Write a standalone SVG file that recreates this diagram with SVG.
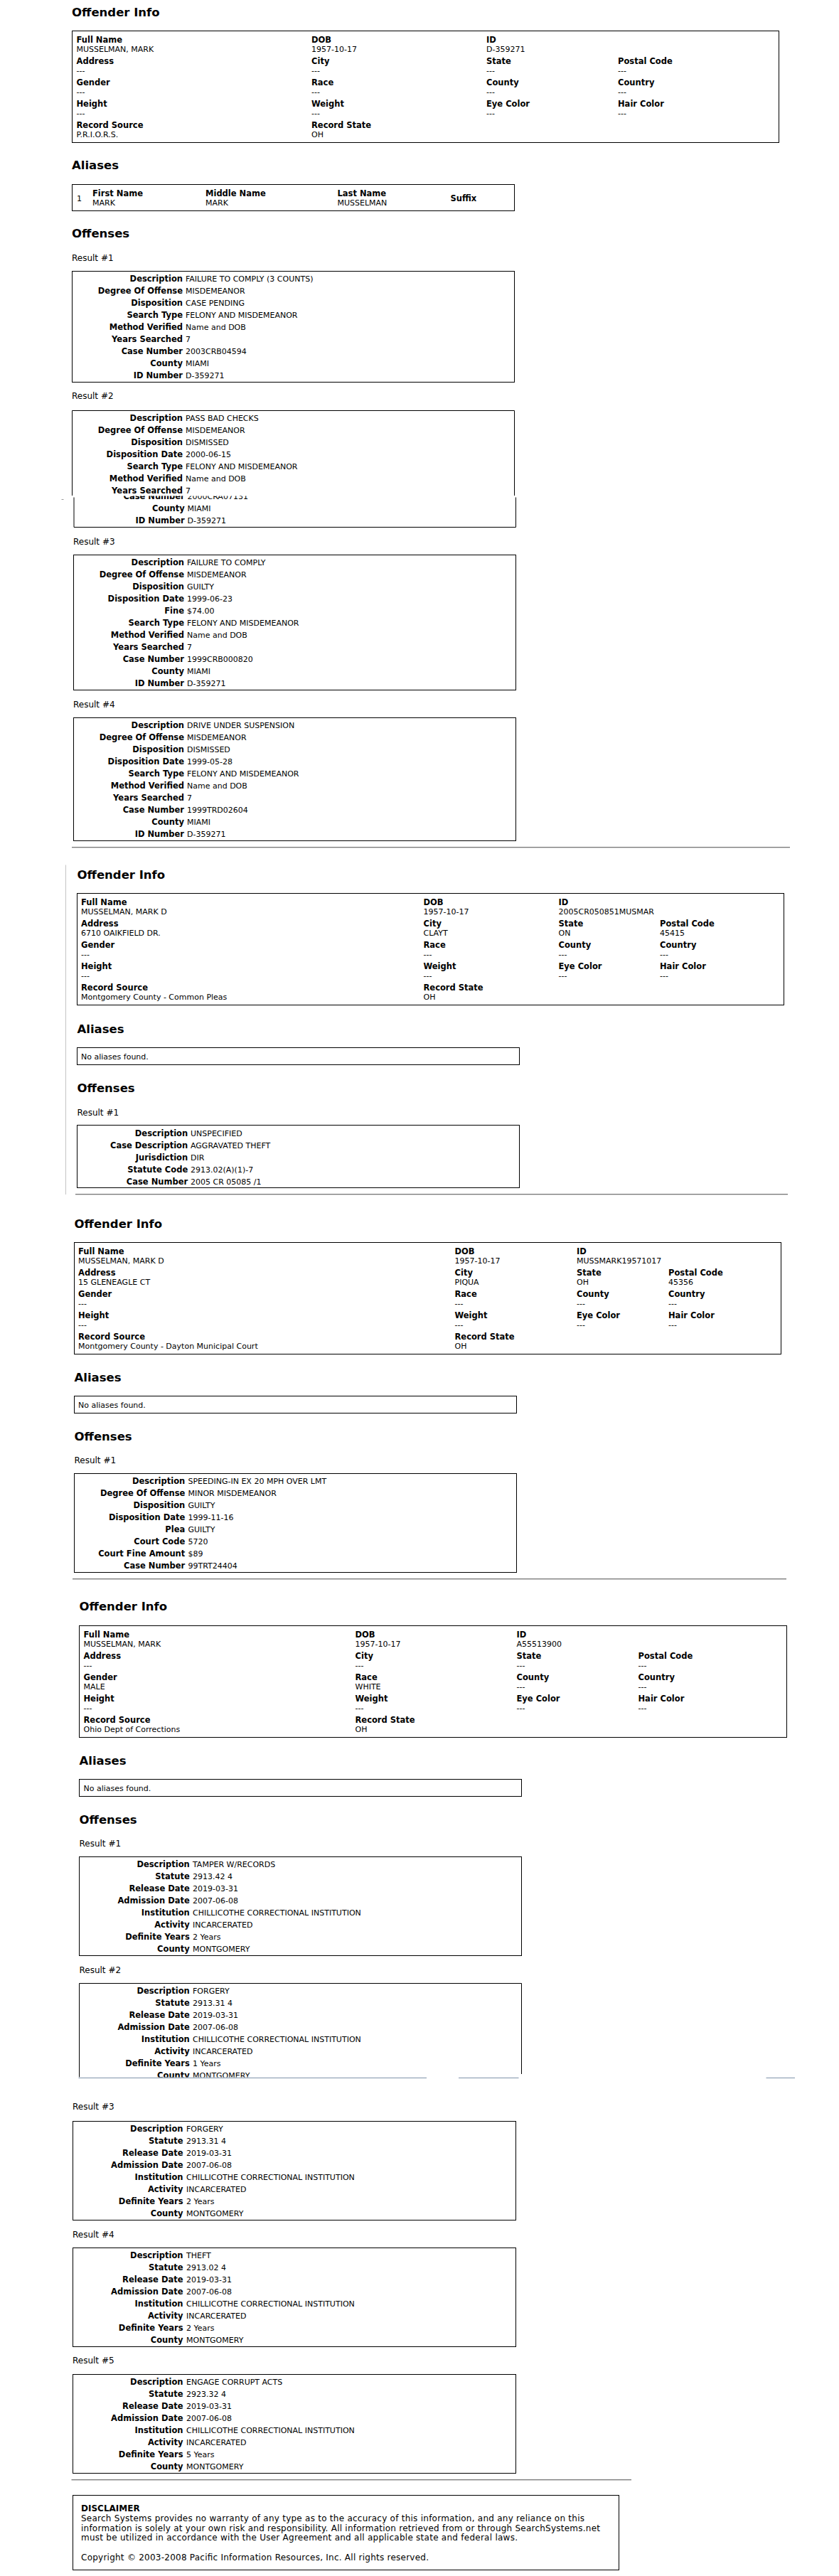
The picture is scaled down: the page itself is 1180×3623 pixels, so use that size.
<svg xmlns="http://www.w3.org/2000/svg" width="1180" height="3623" viewBox="0 0 1180 3623">
<style>
text{font-family:"DejaVu Sans",Verdana,sans-serif;fill:#000}
.h{font-size:16.5px;font-weight:bold}
.l{font-size:11.5px;font-weight:bold}
.le{font-size:11.5px;font-weight:bold;text-anchor:end}
.v{font-size:11px}
.r{font-size:12px}
.d{font-size:12px}
.db{font-size:12px;font-weight:bold}
.box{fill:none;stroke:#000;stroke-width:1}
.hr1{fill:#7a7a7a}
.hr2{fill:#cfcfcf}
.gl{stroke:#7f93aa;stroke-width:1.2;fill:none}
</style>
<defs>
<clipPath id="clipA"><rect x="80" y="697.5" width="700" height="60"/></clipPath>
<clipPath id="clipB"><rect x="80" y="2780" width="700" height="141.5"/></clipPath>
</defs>
<rect width="1180" height="3623" fill="#fff"/>

<!-- ============ SECTION 1 ============ -->
<g id="s1-info">
<text class="h" x="101" y="23">Offender Info</text>
<rect class="box" x="101.5" y="43.5" width="994" height="157"/>
<text class="l" x="107.5" y="59.5">Full Name</text><text class="v" x="107.5" y="72.5">MUSSELMAN, MARK</text>
<text class="l" x="438" y="59.5">DOB</text><text class="v" x="438" y="72.5">1957-10-17</text>
<text class="l" x="684" y="59.5">ID</text><text class="v" x="684" y="72.5">D-359271</text>
<text class="l" x="107.5" y="89.5">Address</text><text class="v" x="107.5" y="102.5">---</text>
<text class="l" x="438" y="89.5">City</text><text class="v" x="438" y="102.5">---</text>
<text class="l" x="684" y="89.5">State</text><text class="v" x="684" y="102.5">---</text>
<text class="l" x="869" y="89.5">Postal Code</text><text class="v" x="869" y="102.5">---</text>
<text class="l" x="107.5" y="119.5">Gender</text><text class="v" x="107.5" y="132.5">---</text>
<text class="l" x="438" y="119.5">Race</text><text class="v" x="438" y="132.5">---</text>
<text class="l" x="684" y="119.5">County</text><text class="v" x="684" y="132.5">---</text>
<text class="l" x="869" y="119.5">Country</text><text class="v" x="869" y="132.5">---</text>
<text class="l" x="107.5" y="149.5">Height</text><text class="v" x="107.5" y="162.5">---</text>
<text class="l" x="438" y="149.5">Weight</text><text class="v" x="438" y="162.5">---</text>
<text class="l" x="684" y="149.5">Eye Color</text><text class="v" x="684" y="162.5">---</text>
<text class="l" x="869" y="149.5">Hair Color</text><text class="v" x="869" y="162.5">---</text>
<text class="l" x="107.5" y="179.5">Record Source</text><text class="v" x="107.5" y="192.5">P.R.I.O.R.S.</text>
<text class="l" x="438" y="179.5">Record State</text><text class="v" x="438" y="192.5">OH</text>
</g>

<g id="s1-aliases">
<text class="h" x="101" y="237.5">Aliases</text>
<rect class="box" x="101.5" y="259.5" width="622" height="37"/>
<text class="v" x="108" y="282.5">1</text>
<text class="l" x="130" y="275.5">First Name</text><text class="v" x="130" y="288.5">MARK</text>
<text class="l" x="289" y="275.5">Middle Name</text><text class="v" x="289" y="288.5">MARK</text>
<text class="l" x="474.5" y="275.5">Last Name</text><text class="v" x="474.5" y="288.5">MUSSELMAN</text>
<text class="l" x="633.5" y="282.5">Suffix</text>
</g>

<g id="s1-offenses">
<text class="h" x="101" y="333.5">Offenses</text>
</g>

<g id="s1-r1">
<text class="r" x="101" y="366.5">Result #1</text>
<rect class="box" x="101.5" y="381.5" width="622" height="156"/>
<text class="le" x="257" y="395.5">Description</text><text class="v" x="261" y="395.5">FAILURE TO COMPLY (3 COUNTS)</text>
<text class="le" x="257" y="412.5">Degree Of Offense</text><text class="v" x="261" y="412.5">MISDEMEANOR</text>
<text class="le" x="257" y="429.5">Disposition</text><text class="v" x="261" y="429.5">CASE PENDING</text>
<text class="le" x="257" y="446.5">Search Type</text><text class="v" x="261" y="446.5">FELONY AND MISDEMEANOR</text>
<text class="le" x="257" y="463.5">Method Verified</text><text class="v" x="261" y="463.5">Name and DOB</text>
<text class="le" x="257" y="480.5">Years Searched</text><text class="v" x="261" y="480.5">7</text>
<text class="le" x="257" y="497.5">Case Number</text><text class="v" x="261" y="497.5">2003CRB04594</text>
<text class="le" x="257" y="514.5">County</text><text class="v" x="261" y="514.5">MIAMI</text>
<text class="le" x="257" y="531.5">ID Number</text><text class="v" x="261" y="531.5">D-359271</text>
</g>

<g id="s1-r2">
<text class="r" x="101" y="561">Result #2</text>
<path class="box" d="M101.5 697V577.5H723.5V697"/>
<text class="le" x="257" y="591.5">Description</text><text class="v" x="261" y="591.5">PASS BAD CHECKS</text>
<text class="le" x="257" y="608.5">Degree Of Offense</text><text class="v" x="261" y="608.5">MISDEMEANOR</text>
<text class="le" x="257" y="625.5">Disposition</text><text class="v" x="261" y="625.5">DISMISSED</text>
<text class="le" x="257" y="642.5">Disposition Date</text><text class="v" x="261" y="642.5">2000-06-15</text>
<text class="le" x="257" y="659.5">Search Type</text><text class="v" x="261" y="659.5">FELONY AND MISDEMEANOR</text>
<text class="le" x="257" y="676.5">Method Verified</text><text class="v" x="261" y="676.5">Name and DOB</text>
<text class="le" x="257" y="693.5">Years Searched</text><text class="v" x="261" y="693.5">7</text>
<g clip-path="url(#clipA)">
<path class="box" d="M104 699.5V741.5H725.5V699.5"/>
<text class="le" x="259.8" y="701.5">Case Number</text><text class="v" x="263.5" y="701.5">2000CRA07131</text>
<text class="le" x="259.8" y="718.5">County</text><text class="v" x="263.5" y="718.5">MIAMI</text>
<text class="le" x="259.8" y="735.5">ID Number</text><text class="v" x="263.5" y="735.5">D-359271</text>
</g>
<rect x="86.5" y="702" width="3" height="1" fill="#9a9a9a"/>
</g>

<g id="s1-r3">
<text class="r" x="103" y="766">Result #3</text>
<rect class="box" x="103.5" y="780.5" width="622" height="190"/>
<text class="le" x="259" y="795">Description</text><text class="v" x="263" y="795">FAILURE TO COMPLY</text>
<text class="le" x="259" y="812">Degree Of Offense</text><text class="v" x="263" y="812">MISDEMEANOR</text>
<text class="le" x="259" y="829">Disposition</text><text class="v" x="263" y="829">GUILTY</text>
<text class="le" x="259" y="846">Disposition Date</text><text class="v" x="263" y="846">1999-06-23</text>
<text class="le" x="259" y="863">Fine</text><text class="v" x="263" y="863">$74.00</text>
<text class="le" x="259" y="880">Search Type</text><text class="v" x="263" y="880">FELONY AND MISDEMEANOR</text>
<text class="le" x="259" y="897">Method Verified</text><text class="v" x="263" y="897">Name and DOB</text>
<text class="le" x="259" y="914">Years Searched</text><text class="v" x="263" y="914">7</text>
<text class="le" x="259" y="931">Case Number</text><text class="v" x="263" y="931">1999CRB000820</text>
<text class="le" x="259" y="948">County</text><text class="v" x="263" y="948">MIAMI</text>
<text class="le" x="259" y="965">ID Number</text><text class="v" x="263" y="965">D-359271</text>
</g>

<g id="s1-r4">
<text class="r" x="103" y="995">Result #4</text>
<rect class="box" x="103.5" y="1009.5" width="622" height="173"/>
<text class="le" x="259" y="1024">Description</text><text class="v" x="263" y="1024">DRIVE UNDER SUSPENSION</text>
<text class="le" x="259" y="1041">Degree Of Offense</text><text class="v" x="263" y="1041">MISDEMEANOR</text>
<text class="le" x="259" y="1058">Disposition</text><text class="v" x="263" y="1058">DISMISSED</text>
<text class="le" x="259" y="1075">Disposition Date</text><text class="v" x="263" y="1075">1999-05-28</text>
<text class="le" x="259" y="1092">Search Type</text><text class="v" x="263" y="1092">FELONY AND MISDEMEANOR</text>
<text class="le" x="259" y="1109">Method Verified</text><text class="v" x="263" y="1109">Name and DOB</text>
<text class="le" x="259" y="1126">Years Searched</text><text class="v" x="263" y="1126">7</text>
<text class="le" x="259" y="1143">Case Number</text><text class="v" x="263" y="1143">1999TRD02604</text>
<text class="le" x="259" y="1160">County</text><text class="v" x="263" y="1160">MIAMI</text>
<text class="le" x="259" y="1177">ID Number</text><text class="v" x="263" y="1177">D-359271</text>
</g>
<g id="hr1"><rect class="hr1" x="101" y="1191" width="1010" height="1"/><rect class="hr2" x="101" y="1192" width="1010" height="1"/></g>

<!-- ============ SECTION 2 ============ -->
<g id="s2-border"><rect x="92" y="1216.5" width="1" height="463.5" fill="#c4c4c4"/></g>
<g id="s2-info">
<text class="h" x="108.5" y="1236">Offender Info</text>
<rect class="box" x="108.5" y="1256.5" width="994" height="157"/>
<text class="l" x="114" y="1273">Full Name</text><text class="v" x="114" y="1286">MUSSELMAN, MARK D</text>
<text class="l" x="595.5" y="1273">DOB</text><text class="v" x="595.5" y="1286">1957-10-17</text>
<text class="l" x="785.5" y="1273">ID</text><text class="v" x="785.5" y="1286">2005CR050851MUSMAR</text>
<text class="l" x="114" y="1303">Address</text><text class="v" x="114" y="1316">6710 OAIKFIELD DR.</text>
<text class="l" x="595.5" y="1303">City</text><text class="v" x="595.5" y="1316">CLAYT</text>
<text class="l" x="785.5" y="1303">State</text><text class="v" x="785.5" y="1316">ON</text>
<text class="l" x="928" y="1303">Postal Code</text><text class="v" x="928" y="1316">45415</text>
<text class="l" x="114" y="1333">Gender</text><text class="v" x="114" y="1346">---</text>
<text class="l" x="595.5" y="1333">Race</text><text class="v" x="595.5" y="1346">---</text>
<text class="l" x="785.5" y="1333">County</text><text class="v" x="785.5" y="1346">---</text>
<text class="l" x="928" y="1333">Country</text><text class="v" x="928" y="1346">---</text>
<text class="l" x="114" y="1363">Height</text><text class="v" x="114" y="1376">---</text>
<text class="l" x="595.5" y="1363">Weight</text><text class="v" x="595.5" y="1376">---</text>
<text class="l" x="785.5" y="1363">Eye Color</text><text class="v" x="785.5" y="1376">---</text>
<text class="l" x="928" y="1363">Hair Color</text><text class="v" x="928" y="1376">---</text>
<text class="l" x="114" y="1393">Record Source</text><text class="v" x="114" y="1406">Montgomery County - Common Pleas</text>
<text class="l" x="595.5" y="1393">Record State</text><text class="v" x="595.5" y="1406">OH</text>
</g>
<g id="s2-aliases">
<text class="h" x="108.5" y="1452.5">Aliases</text>
<rect class="box" x="108.5" y="1473.5" width="622" height="24"/>
<text class="v" x="114" y="1489.5">No aliases found.</text>
</g>
<g id="s2-offenses">
<text class="h" x="108.5" y="1536">Offenses</text>
</g>
<g id="s2-r1">
<text class="r" x="108.5" y="1568.5">Result #1</text>
<rect class="box" x="108.5" y="1582.5" width="622" height="88"/>
<text class="le" x="264.2" y="1597.5">Description</text><text class="v" x="268" y="1597.5">UNSPECIFIED</text>
<text class="le" x="264.2" y="1614.5">Case Description</text><text class="v" x="268" y="1614.5">AGGRAVATED THEFT</text>
<text class="le" x="264.2" y="1631.5">Jurisdiction</text><text class="v" x="268" y="1631.5">DIR</text>
<text class="le" x="264.2" y="1648.5">Statute Code</text><text class="v" x="268" y="1648.5">2913.02(A)(1)-7</text>
<text class="le" x="264.2" y="1665.5">Case Number</text><text class="v" x="268" y="1665.5">2005 CR 05085 /1</text>
</g>
<g id="hr2"><rect class="hr1" x="106" y="1679" width="1002" height="1"/><rect class="hr2" x="106" y="1680" width="1002" height="1"/></g>

<!-- ============ SECTION 3 ============ -->
<g id="s3-info">
<text class="h" x="104.5" y="1726.5">Offender Info</text>
<rect class="box" x="104.5" y="1747.5" width="994" height="157"/>
<text class="l" x="110" y="1763.5">Full Name</text><text class="v" x="110" y="1776.5">MUSSELMAN, MARK D</text>
<text class="l" x="639.5" y="1763.5">DOB</text><text class="v" x="639.5" y="1776.5">1957-10-17</text>
<text class="l" x="811" y="1763.5">ID</text><text class="v" x="811" y="1776.5">MUSSMARK19571017</text>
<text class="l" x="110" y="1793.5">Address</text><text class="v" x="110" y="1806.5">15 GLENEAGLE CT</text>
<text class="l" x="639.5" y="1793.5">City</text><text class="v" x="639.5" y="1806.5">PIQUA</text>
<text class="l" x="811" y="1793.5">State</text><text class="v" x="811" y="1806.5">OH</text>
<text class="l" x="940" y="1793.5">Postal Code</text><text class="v" x="940" y="1806.5">45356</text>
<text class="l" x="110" y="1823.5">Gender</text><text class="v" x="110" y="1836.5">---</text>
<text class="l" x="639.5" y="1823.5">Race</text><text class="v" x="639.5" y="1836.5">---</text>
<text class="l" x="811" y="1823.5">County</text><text class="v" x="811" y="1836.5">---</text>
<text class="l" x="940" y="1823.5">Country</text><text class="v" x="940" y="1836.5">---</text>
<text class="l" x="110" y="1853.5">Height</text><text class="v" x="110" y="1866.5">---</text>
<text class="l" x="639.5" y="1853.5">Weight</text><text class="v" x="639.5" y="1866.5">---</text>
<text class="l" x="811" y="1853.5">Eye Color</text><text class="v" x="811" y="1866.5">---</text>
<text class="l" x="940" y="1853.5">Hair Color</text><text class="v" x="940" y="1866.5">---</text>
<text class="l" x="110" y="1883.5">Record Source</text><text class="v" x="110" y="1896.5">Montgomery County - Dayton Municipal Court</text>
<text class="l" x="639.5" y="1883.5">Record State</text><text class="v" x="639.5" y="1896.5">OH</text>
</g>
<g id="s3-aliases">
<text class="h" x="104.5" y="1942.5">Aliases</text>
<rect class="box" x="104.5" y="1963.5" width="622" height="24"/>
<text class="v" x="110" y="1979.5">No aliases found.</text>
</g>
<g id="s3-offenses">
<text class="h" x="104.5" y="2025.5">Offenses</text>
</g>
<g id="s3-r1">
<text class="r" x="104.5" y="2057.5">Result #1</text>
<rect class="box" x="104.5" y="2072.5" width="622" height="139"/>
<text class="le" x="260.3" y="2087">Description</text><text class="v" x="264.5" y="2087">SPEEDING-IN EX 20 MPH OVER LMT</text>
<text class="le" x="260.3" y="2104">Degree Of Offense</text><text class="v" x="264.5" y="2104">MINOR MISDEMEANOR</text>
<text class="le" x="260.3" y="2121">Disposition</text><text class="v" x="264.5" y="2121">GUILTY</text>
<text class="le" x="260.3" y="2138">Disposition Date</text><text class="v" x="264.5" y="2138">1999-11-16</text>
<text class="le" x="260.3" y="2155">Plea</text><text class="v" x="264.5" y="2155">GUILTY</text>
<text class="le" x="260.3" y="2172">Court Code</text><text class="v" x="264.5" y="2172">5720</text>
<text class="le" x="260.3" y="2189">Court Fine Amount</text><text class="v" x="264.5" y="2189">$89</text>
<text class="le" x="260.3" y="2206">Case Number</text><text class="v" x="264.5" y="2206">99TRT24404</text>
</g>
<g id="hr3"><rect class="hr1" x="102" y="2220" width="1004" height="1"/><rect class="hr2" x="102" y="2221" width="1004" height="1"/></g>

<!-- ============ SECTION 4 ============ -->
<g id="s4-info">
<text class="h" x="111.5" y="2265">Offender Info</text>
<rect class="box" x="111.5" y="2286.5" width="995" height="157"/>
<text class="l" x="117.5" y="2302.5">Full Name</text><text class="v" x="117.5" y="2315.5">MUSSELMAN, MARK</text>
<text class="l" x="499.5" y="2302.5">DOB</text><text class="v" x="499.5" y="2315.5">1957-10-17</text>
<text class="l" x="726.5" y="2302.5">ID</text><text class="v" x="726.5" y="2315.5">A55513900</text>
<text class="l" x="117.5" y="2332.5">Address</text><text class="v" x="117.5" y="2345.5">---</text>
<text class="l" x="499.5" y="2332.5">City</text><text class="v" x="499.5" y="2345.5">---</text>
<text class="l" x="726.5" y="2332.5">State</text><text class="v" x="726.5" y="2345.5">---</text>
<text class="l" x="897.5" y="2332.5">Postal Code</text><text class="v" x="897.5" y="2345.5">---</text>
<text class="l" x="117.5" y="2362.5">Gender</text><text class="v" x="117.5" y="2375.5">MALE</text>
<text class="l" x="499.5" y="2362.5">Race</text><text class="v" x="499.5" y="2375.5">WHITE</text>
<text class="l" x="726.5" y="2362.5">County</text><text class="v" x="726.5" y="2375.5">---</text>
<text class="l" x="897.5" y="2362.5">Country</text><text class="v" x="897.5" y="2375.5">---</text>
<text class="l" x="117.5" y="2392.5">Height</text><text class="v" x="117.5" y="2405.5">---</text>
<text class="l" x="499.5" y="2392.5">Weight</text><text class="v" x="499.5" y="2405.5">---</text>
<text class="l" x="726.5" y="2392.5">Eye Color</text><text class="v" x="726.5" y="2405.5">---</text>
<text class="l" x="897.5" y="2392.5">Hair Color</text><text class="v" x="897.5" y="2405.5">---</text>
<text class="l" x="117.5" y="2422.5">Record Source</text><text class="v" x="117.5" y="2435.5">Ohio Dept of Corrections</text>
<text class="l" x="499.5" y="2422.5">Record State</text><text class="v" x="499.5" y="2435.5">OH</text>
</g>
<g id="s4-aliases">
<text class="h" x="111.5" y="2481.5">Aliases</text>
<rect class="box" x="111.5" y="2502.5" width="622" height="24"/>
<text class="v" x="117.5" y="2518.5">No aliases found.</text>
</g>
<g id="s4-offenses">
<text class="h" x="111.5" y="2564.5">Offenses</text>
</g>
<g id="s4-r1">
<text class="r" x="111.5" y="2596.5">Result #1</text>
<rect class="box" x="111.5" y="2611.5" width="622" height="139"/>
<text class="le" x="266.8" y="2625.7">Description</text><text class="v" x="271" y="2625.7">TAMPER W/RECORDS</text>
<text class="le" x="266.8" y="2642.7">Statute</text><text class="v" x="271" y="2642.7">2913.42 4</text>
<text class="le" x="266.8" y="2659.7">Release Date</text><text class="v" x="271" y="2659.7">2019-03-31</text>
<text class="le" x="266.8" y="2676.7">Admission Date</text><text class="v" x="271" y="2676.7">2007-06-08</text>
<text class="le" x="266.8" y="2693.7">Institution</text><text class="v" x="271" y="2693.7">CHILLICOTHE CORRECTIONAL INSTITUTION</text>
<text class="le" x="266.8" y="2710.7">Activity</text><text class="v" x="271" y="2710.7">INCARCERATED</text>
<text class="le" x="266.8" y="2727.7">Definite Years</text><text class="v" x="271" y="2727.7">2 Years</text>
<text class="le" x="266.8" y="2744.7">County</text><text class="v" x="271" y="2744.7">MONTGOMERY</text>
</g>
<g id="s4-r2">
<text class="r" x="111.5" y="2774.5">Result #2</text>
<g clip-path="url(#clipB)">
<path class="box" d="M111.5 2921.5V2789.5H733.5V2917"/>
<text class="le" x="266.8" y="2803.7">Description</text><text class="v" x="271" y="2803.7">FORGERY</text>
<text class="le" x="266.8" y="2820.7">Statute</text><text class="v" x="271" y="2820.7">2913.31 4</text>
<text class="le" x="266.8" y="2837.7">Release Date</text><text class="v" x="271" y="2837.7">2019-03-31</text>
<text class="le" x="266.8" y="2854.7">Admission Date</text><text class="v" x="271" y="2854.7">2007-06-08</text>
<text class="le" x="266.8" y="2871.7">Institution</text><text class="v" x="271" y="2871.7">CHILLICOTHE CORRECTIONAL INSTITUTION</text>
<text class="le" x="266.8" y="2888.7">Activity</text><text class="v" x="271" y="2888.7">INCARCERATED</text>
<text class="le" x="266.8" y="2905.7">Definite Years</text><text class="v" x="271" y="2905.7">1 Years</text>
<text class="le" x="266.8" y="2922.7">County</text><text class="v" x="271" y="2922.7">MONTGOMERY</text>
</g>
<path class="gl" d="M110.5 2922.5H600M645 2922.5H729.5M1077.5 2922.5H1118"/>
</g>
<g id="s4-r3">
<text class="r" x="102" y="2966.7">Result #3</text>
<rect class="box" x="102.5" y="2983.5" width="623" height="139"/>
<text class="le" x="257.5" y="2997.7">Description</text><text class="v" x="262" y="2997.7">FORGERY</text>
<text class="le" x="257.5" y="3014.7">Statute</text><text class="v" x="262" y="3014.7">2913.31 4</text>
<text class="le" x="257.5" y="3031.7">Release Date</text><text class="v" x="262" y="3031.7">2019-03-31</text>
<text class="le" x="257.5" y="3048.7">Admission Date</text><text class="v" x="262" y="3048.7">2007-06-08</text>
<text class="le" x="257.5" y="3065.7">Institution</text><text class="v" x="262" y="3065.7">CHILLICOTHE CORRECTIONAL INSTITUTION</text>
<text class="le" x="257.5" y="3082.7">Activity</text><text class="v" x="262" y="3082.7">INCARCERATED</text>
<text class="le" x="257.5" y="3099.7">Definite Years</text><text class="v" x="262" y="3099.7">2 Years</text>
<text class="le" x="257.5" y="3116.7">County</text><text class="v" x="262" y="3116.7">MONTGOMERY</text>
</g>
<g id="s4-r4">
<text class="r" x="102" y="3146.7">Result #4</text>
<rect class="box" x="102.5" y="3161.5" width="623" height="139"/>
<text class="le" x="257.5" y="3175.7">Description</text><text class="v" x="262" y="3175.7">THEFT</text>
<text class="le" x="257.5" y="3192.7">Statute</text><text class="v" x="262" y="3192.7">2913.02 4</text>
<text class="le" x="257.5" y="3209.7">Release Date</text><text class="v" x="262" y="3209.7">2019-03-31</text>
<text class="le" x="257.5" y="3226.7">Admission Date</text><text class="v" x="262" y="3226.7">2007-06-08</text>
<text class="le" x="257.5" y="3243.7">Institution</text><text class="v" x="262" y="3243.7">CHILLICOTHE CORRECTIONAL INSTITUTION</text>
<text class="le" x="257.5" y="3260.7">Activity</text><text class="v" x="262" y="3260.7">INCARCERATED</text>
<text class="le" x="257.5" y="3277.7">Definite Years</text><text class="v" x="262" y="3277.7">2 Years</text>
<text class="le" x="257.5" y="3294.7">County</text><text class="v" x="262" y="3294.7">MONTGOMERY</text>
</g>
<g id="s4-r5">
<text class="r" x="102" y="3324.3">Result #5</text>
<rect class="box" x="102.5" y="3339.5" width="623" height="139"/>
<text class="le" x="257.5" y="3353.7">Description</text><text class="v" x="262" y="3353.7">ENGAGE CORRUPT ACTS</text>
<text class="le" x="257.5" y="3370.7">Statute</text><text class="v" x="262" y="3370.7">2923.32 4</text>
<text class="le" x="257.5" y="3387.7">Release Date</text><text class="v" x="262" y="3387.7">2019-03-31</text>
<text class="le" x="257.5" y="3404.7">Admission Date</text><text class="v" x="262" y="3404.7">2007-06-08</text>
<text class="le" x="257.5" y="3421.7">Institution</text><text class="v" x="262" y="3421.7">CHILLICOTHE CORRECTIONAL INSTITUTION</text>
<text class="le" x="257.5" y="3438.7">Activity</text><text class="v" x="262" y="3438.7">INCARCERATED</text>
<text class="le" x="257.5" y="3455.7">Definite Years</text><text class="v" x="262" y="3455.7">5 Years</text>
<text class="le" x="257.5" y="3472.7">County</text><text class="v" x="262" y="3472.7">MONTGOMERY</text>
</g>
<g id="hr4"><rect class="hr1" x="100.5" y="3487" width="787.5" height="1"/><rect class="hr2" x="100.5" y="3488" width="787.5" height="1"/></g>

<!-- ============ DISCLAIMER ============ -->
<g id="disclaimer">
<rect class="box" x="102.5" y="3509.5" width="768" height="105"/>
<text class="db" x="114" y="3531.7">DISCLAIMER</text>
<text class="d" x="114" y="3545.7" textLength="708" lengthAdjust="spacing">Search Systems provides no warranty of any type as to the accuracy of this information, and any reliance on this</text>
<text class="d" x="114" y="3559.5" textLength="730" lengthAdjust="spacing">information is solely at your own risk and responsibility. All information retrieved from or through SearchSystems.net</text>
<text class="d" x="114" y="3573.3" textLength="614" lengthAdjust="spacing">must be utilized in accordance with the User Agreement and all applicable state and federal laws.</text>
<text class="d" x="114" y="3601.3" textLength="489" lengthAdjust="spacing">Copyright © 2003-2008 Pacific Information Resources, Inc. All rights reserved.</text>
</g>
</svg>
